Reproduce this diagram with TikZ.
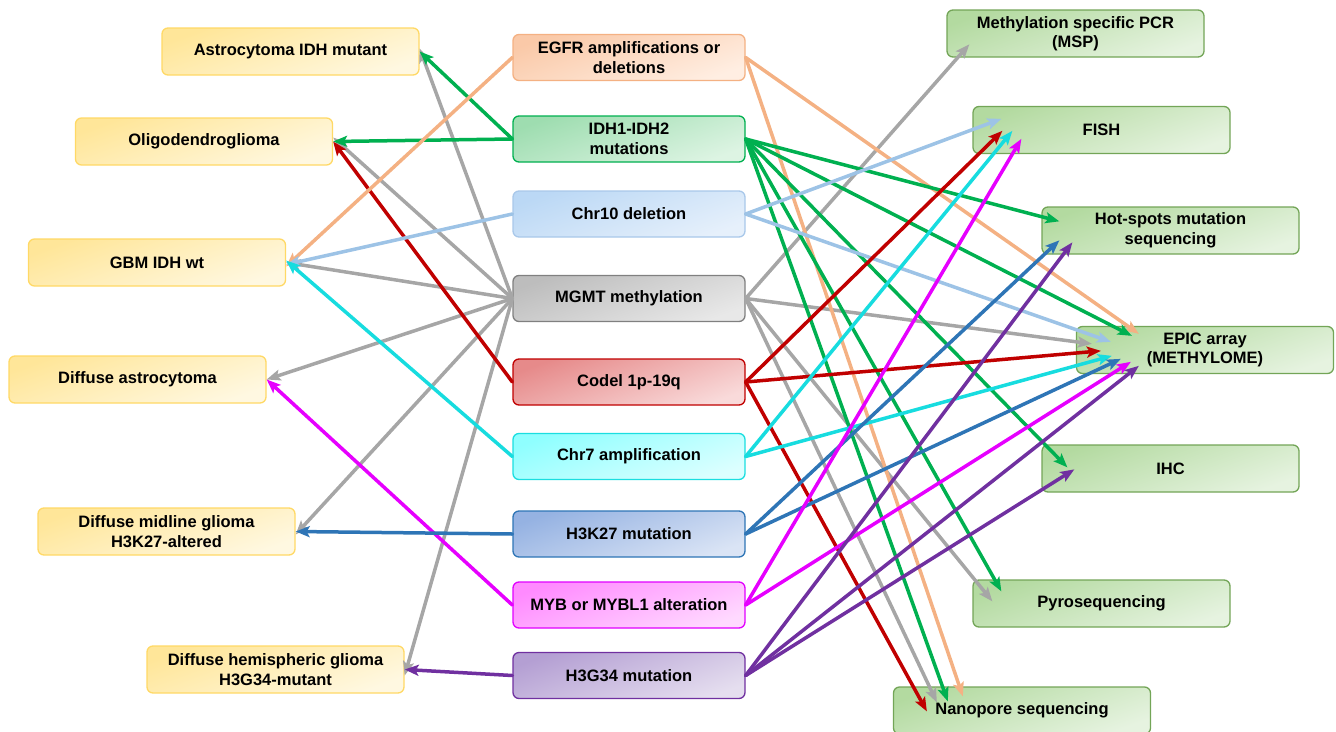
\documentclass[tikz,border=0pt]{standalone}
\usepackage{fontspec}
\setmainfont{Liberation Sans}
\usetikzlibrary{arrows.meta,calc}
% box colours
\definecolor{yelT}{HTML}{FFE699}\definecolor{yelB}{HTML}{FFF8E1}\definecolor{yelL}{HTML}{FFD966}
\definecolor{grnT}{HTML}{B3DAA0}\definecolor{grnB}{HTML}{E6F3E0}\definecolor{grnL}{HTML}{73A557}
\definecolor{egfrT}{HTML}{FAC9A8}\definecolor{egfrB}{HTML}{FFEEE2}\definecolor{egfrL}{HTML}{F4B183}
\definecolor{idhT}{HTML}{9EDDB0}\definecolor{idhB}{HTML}{DDF4E3}\definecolor{idhL}{HTML}{00B050}
\definecolor{chrtT}{HTML}{BBD8F5}\definecolor{chrtB}{HTML}{E6F0FB}\definecolor{chrtL}{HTML}{A9C8EA}
\definecolor{mgmtT}{HTML}{BDBDBD}\definecolor{mgmtB}{HTML}{E8E8E8}\definecolor{mgmtL}{HTML}{808080}
\definecolor{codT}{HTML}{E68A8A}\definecolor{codB}{HTML}{F9DADA}\definecolor{codL}{HTML}{C00000}
\definecolor{chrsT}{HTML}{8FFFFF}\definecolor{chrsB}{HTML}{DCFFFF}\definecolor{chrsL}{HTML}{1ADEE0}
\definecolor{kT}{HTML}{95B2E2}\definecolor{kB}{HTML}{DAE4F5}\definecolor{kL}{HTML}{2E75B6}
\definecolor{mybT}{HTML}{FF8AFF}\definecolor{mybB}{HTML}{FFD9FF}\definecolor{mybL}{HTML}{E100FF}
\definecolor{gT}{HTML}{B49FD3}\definecolor{gB}{HTML}{E5DEEF}\definecolor{gL}{HTML}{7030A0}
% connector colours
\definecolor{cGreen}{HTML}{00B050}
\definecolor{cGray}{HTML}{A6A6A6}
\definecolor{cPeach}{HTML}{F4B183}
\definecolor{cLBlue}{HTML}{9DC3E6}
\definecolor{cRed}{HTML}{C00000}
\definecolor{cCyan}{HTML}{17DCDF}
\definecolor{cBlue}{HTML}{2E75B6}
\definecolor{cMag}{HTML}{E600FF}
\definecolor{cPurp}{HTML}{7030A0}
\begin{document}
\begin{tikzpicture}[x=1pt,y=-1pt,
  box/.style={rectangle, rounded corners=6pt, line width=1.3pt, inner sep=0pt,
    align=center, font=\bfseries\fontsize{16.5}{19.5}\selectfont, text=black,
    shading angle=20},
  lbox/.style={box, draw=yelL, top color=yelT, bottom color=yelB, shading angle=20,
    minimum width=257pt, minimum height=47pt},
  rbox/.style={box, draw=grnL, top color=grnT, bottom color=grnB, shading angle=20,
    minimum width=257pt, minimum height=47pt},
  midbox/.style={box, draw=#1L, top color=#1T, bottom color=#1B, shading angle=20,
    minimum width=232pt, minimum height=46pt},
  conn/.style={draw=#1, line width=3.5pt, line cap=round,
    -{Stealth[length=14pt,width=11pt,inset=3pt]}},
]
\useasboundingbox (0,0) rectangle (1336,731);

% left nodes
\node[lbox] (astro) at (290.5,51.5) {Astrocytoma IDH mutant};
\node[lbox] (oligo) at (204,141.5) {Oligodendroglioma};
\node[lbox] (gbm)   at (157,262.5) {GBM IDH wt};
\node[lbox] (dastro) at (137.5,379.5) {Diffuse astrocytoma};
\node[lbox] (midl)  at (166.5,531.5) {Diffuse midline glioma\\H3K27-altered};
\node[lbox] (hemi)  at (275.5,669.5) {Diffuse hemispheric glioma\\H3G34-mutant};

% middle nodes
\node[midbox=egfr] (egfr) at (629,57.5) {EGFR amplifications or\\deletions};
\node[midbox=idh]  (idh)  at (629,139) {IDH1-IDH2\\mutations};
\node[midbox=chrt] (chrt) at (629,214) {Chr10 deletion};
\node[midbox=mgmt] (mgmt) at (629,298.5) {MGMT methylation};
\node[midbox=cod]  (cod)  at (629,382) {Codel 1p-19q};
\node[midbox=chrs] (chrs) at (629,456.5) {Chr7 amplification};
\node[midbox=k]    (hk)   at (629,534) {H3K27 mutation};
\node[midbox=myb]  (myb)  at (629,605) {MYB or MYBL1 alteration};
\node[midbox=g]    (hg)   at (629,675.5) {H3G34 mutation};

% right nodes
\node[rbox] (msp)  at (1075.5,33.5) {Methylation specific PCR\\(MSP)};
\node[rbox] (fish) at (1101.5,130) {FISH};
\node[rbox] (hot)  at (1170.5,230.5) {Hot-spots mutation\\sequencing};
\node[rbox] (epic) at (1205,350) {EPIC array\\(METHYLOME)};
\node[rbox] (ihc)  at (1170.5,468.5) {IHC};
\node[rbox] (pyro) at (1101.5,603.5) {Pyrosequencing};
\node[rbox] (nano) at (1022,710.5) {Nanopore sequencing};

% ---- left connectors
\draw[conn=cGray] (mgmt.west) -- ([yshift=3]astro.east);
\draw[conn=cGray] (mgmt.west) -- ([yshift=4]oligo.east);
\draw[conn=cGray] (mgmt.west) -- (gbm.east);
\draw[conn=cGray] (mgmt.west) -- (dastro.east);
\draw[conn=cGray] (mgmt.west) -- ([yshift=-3]midl.east);
\draw[conn=cGray] (mgmt.west) -- ([yshift=-6]hemi.east);
\draw[conn=cGreen] (idh.west) -- (astro.east);
\draw[conn=cGreen] (idh.west) -- (oligo.east);
\draw[conn=cRed] (cod.west) -- (oligo.east);
\draw[conn=cPeach] (egfr.west) -- ([yshift=-4]gbm.east);
\draw[conn=cLBlue] (chrt.west) -- ([yshift=-2]gbm.east);
\draw[conn=cCyan] (chrs.west) -- ([yshift=2]gbm.east);
\draw[conn=cMag] (myb.west) -- (dastro.east);
\draw[conn=cBlue] (hk.west) -- (midl.east);
\draw[conn=cPurp] (hg.west) -- (hemi.east);

% ---- right connectors
\draw[conn=cGray] (mgmt.east) -- ([shift={(23,35)}]msp.north west);
\draw[conn=cGray] (mgmt.east) -- ([shift={(16,18)}]epic.north west);
\draw[conn=cGray] (mgmt.east) -- ([shift={(20,22)}]pyro.north west);
\draw[conn=cGray] (mgmt.east) -- ([shift={(44,16)}]nano.north west);
\draw[conn=cPeach] (egfr.east) -- ([shift={(63,8)}]epic.north west);
\draw[conn=cPeach] (egfr.east) -- ([shift={(70,10)}]nano.north west);
\draw[conn=cGreen] (idh.east) -- ([shift={(18,15)}]hot.north west);
\draw[conn=cGreen] (idh.east) -- ([shift={(56,10)}]epic.north west);
\draw[conn=cGreen] (idh.east) -- ([shift={(26,23)}]ihc.north west);
\draw[conn=cGreen] (idh.east) -- ([shift={(29,12)}]pyro.north west);
\draw[conn=cGreen] (idh.east) -- ([shift={(55,15)}]nano.north west);
\draw[conn=cLBlue] (chrt.east) -- ([shift={(29,13)}]fish.north west);
\draw[conn=cLBlue] (chrt.east) -- ([shift={(35,16)}]epic.north west);
\draw[conn=cRed] (cod.east) -- ([shift={(30,25)}]fish.north west);
\draw[conn=cRed] (cod.east) -- ([shift={(25,25)}]epic.north west);
\draw[conn=cRed] (cod.east) -- ([shift={(34,25)}]nano.north west);
\draw[conn=cCyan] (chrs.east) -- ([shift={(40,25)}]fish.north west);
\draw[conn=cCyan] (chrs.east) -- ([shift={(36,30)}]epic.north west);
\draw[conn=cBlue] (hk.east) -- ([shift={(18,34)}]hot.north west);
\draw[conn=cBlue] (hk.east) -- ([shift={(45,33)}]epic.north west);
\draw[conn=cMag] (myb.east) -- ([shift={(49,33)}]fish.north west);
\draw[conn=cMag] (myb.east) -- ([shift={(55,36)}]epic.north west);
\draw[conn=cPurp] (hg.east) -- ([shift={(31,36)}]hot.north west);
\draw[conn=cPurp] (hg.east) -- ([shift={(63,40)}]epic.north west);
\draw[conn=cPurp] (hg.east) -- ([shift={(33,25)}]ihc.north west);
\end{tikzpicture}
\end{document}
